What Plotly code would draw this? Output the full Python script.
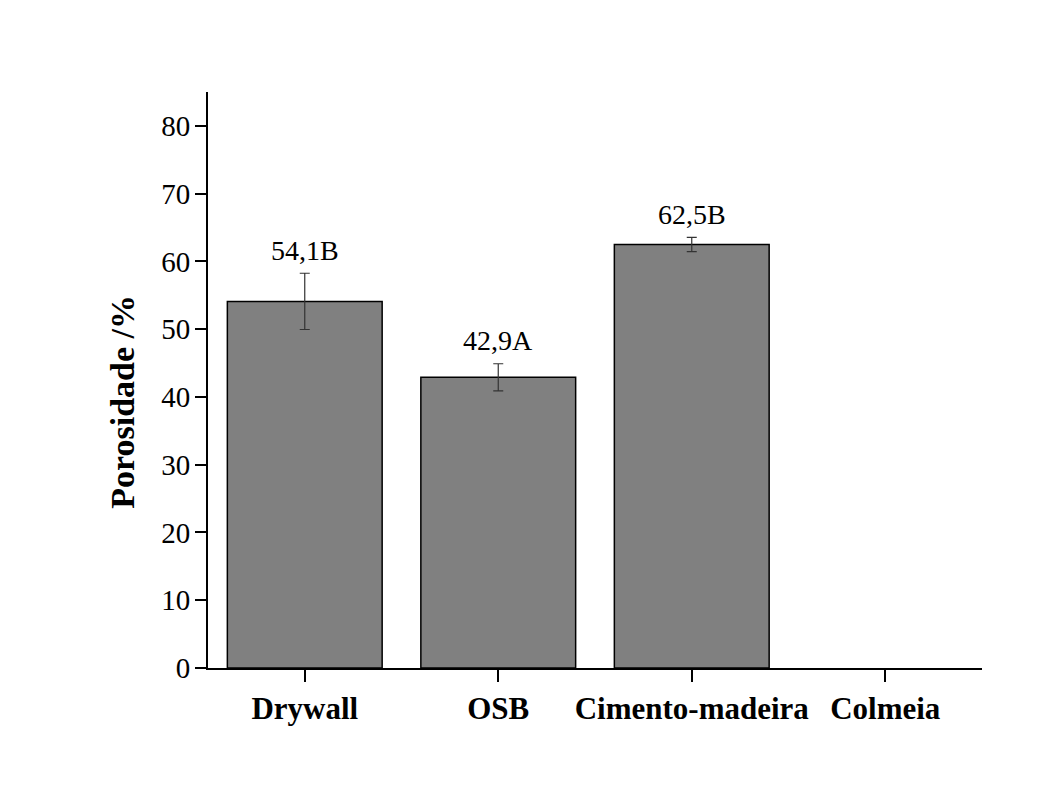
import plotly.graph_objects as go

# Porosity by panel type (mean ± standard deviation, with Tukey grouping letters)
categories = ["Drywall", "OSB", "Cimento-madeira", "Colmeia"]
porosity = [54.1, 42.9, 62.5, None]
std_dev = [4.15, 2.0, 1.05, None]
group_letters = ["B", "A", "B", ""]
y_ticks = [0, 10, 20, 30, 40, 50, 60, 70, 80]

FONT = "Liberation Serif"

fig = go.Figure()
fig.add_trace(go.Bar(
    x=categories,
    y=porosity,
    marker=dict(color="#808080", line=dict(color="#000000", width=1.5)),
    error_y=dict(type="data", array=std_dev, visible=True,
                 color="#333333", thickness=1.2, width=5),
    width=0.8,
    showlegend=False,
))

# Value + grouping letter above each error bar
for cat, v, e, g in zip(categories, porosity, std_dev, group_letters):
    if v is None:
        continue
    fig.add_annotation(
        x=cat, y=v + e, xref="x", yref="y",
        text=f"{v:.1f}".replace(".", ",") + g,
        showarrow=False, yanchor="middle", yshift=23,
        font=dict(family=FONT, size=28, color="#000000"),
    )

# Vertical axis title, placed slightly below the plot's mid-height
fig.add_annotation(
    text="Porosidade /%", textangle=-90,
    xref="paper", yref="paper", x=-0.11, y=0.462,
    xanchor="center", yanchor="middle", showarrow=False,
    font=dict(family=FONT, size=34, weight="bold", color="#000000"),
)

fig.update_layout(
    width=1041, height=789,
    margin=dict(l=208, r=59, t=92, b=121),
    paper_bgcolor="white", plot_bgcolor="white",
    font=dict(family=FONT, color="#000000"),
)
fig.update_xaxes(
    range=[-0.5, 3.5],
    showline=True, linecolor="#000000", linewidth=2,
    ticks="outside", ticklen=12, tickwidth=2, tickcolor="#000000",
    tickfont=dict(family=FONT, size=31, weight="bold"),
    showgrid=False, zeroline=False,
)
fig.update_yaxes(
    range=[0, 85],
    tickvals=y_ticks,
    showline=True, linecolor="#000000", linewidth=2,
    ticks="outside", ticklen=11, tickwidth=2, tickcolor="#000000",
    tickfont=dict(family=FONT, size=29),
    ticklabelstandoff=-1,
    showgrid=False, zeroline=False,
)

fig.write_html("out.html")
